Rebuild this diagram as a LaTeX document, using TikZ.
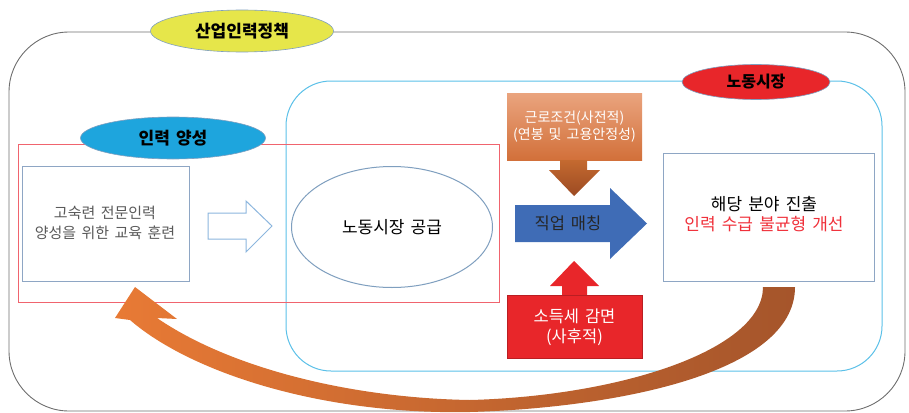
\documentclass[tikz,border=0pt]{standalone}
\usepackage{fontspec}
\setmainfont{Noto Sans CJK KR}
\usetikzlibrary{shapes.geometric}
\definecolor{outergrey}{HTML}{6E6E6E}
\definecolor{cyanline}{HTML}{5BC0E8}
\definecolor{redline}{HTML}{F0646E}
\definecolor{boxline}{HTML}{8EA6C4}
\definecolor{hollowline}{HTML}{8CB6DE}
\definecolor{ellyellow}{HTML}{E6E64A}
\definecolor{ellblue}{HTML}{1EA5DD}
\definecolor{ellred}{HTML}{E8262A}
\definecolor{ellborder}{HTML}{7F9FBF}
\definecolor{peachtop}{HTML}{EAA47E}
\definecolor{peachbot}{HTML}{D2703A}
\definecolor{browntop}{HTML}{C46A30}
\definecolor{brownbot}{HTML}{9C4A22}
\definecolor{matchblue}{HTML}{3F6CB6}
\definecolor{taxred}{HTML}{E8262A}
\definecolor{textgrey}{HTML}{595959}
\definecolor{redtext}{HTML}{F0303A}
\definecolor{arroworange}{HTML}{E87A35}
\definecolor{arrowbrown}{HTML}{A5552B}
\newcommand{\widesp}{\spaceskip=0.36em plus 0.05em\relax}
\tikzset{
  labelell/.style={ellipse, draw=ellborder, line width=0.6pt, inner sep=0pt, font=\fontsize{17}{20}\selectfont\bfseries\widesp},
  plainbox/.style={draw=boxline, fill=white, line width=1pt},
  txt/.style={align=center, inner sep=0pt},
}
\begin{document}
\begin{tikzpicture}[x=1pt,y=-1pt]
\useasboundingbox (0,0) rectangle (909,412);
% outer frame
\draw[outergrey, line width=0.9pt, rounded corners=60pt] (9,32) rectangle (905,411);
% labour market frame
\draw[cyanline, line width=1pt, rounded corners=45pt] (286,81) rectangle (882,371);
% training frame
\draw[redline, line width=1pt] (18,144) rectangle (499,302);
% ellipse labels
\node[labelell, fill=ellyellow, minimum width=183pt, minimum height=42pt] (policy) at (242,31) {산업인력정책};
\node[labelell, fill=ellred, minimum width=148pt, minimum height=35pt, font=\fontsize{16}{20}\selectfont\bfseries] (market) at (756,82) {노동시장};
\node[labelell, fill=ellblue, minimum width=185pt, minimum height=42pt] (train) at (173,138) {인력 양성};
% left box
\draw[plainbox] (22,166) rectangle (189,281);
\node[txt, text=textgrey, font=\fontsize{15}{20}\selectfont\widesp] (edu) at (105,223) {고숙련 전문인력\\양성을 위한 교육 훈련};
% hollow arrow
\draw[hollowline, fill=white, line width=1pt] (208,213) -- (246,213) -- (246,201) -- (272,226) -- (246,252) -- (246,239) -- (208,239) -- cycle;
% supply ellipse
\node[ellipse, draw=ellborder, fill=white, line width=1pt, minimum width=201pt, minimum height=121pt, inner sep=0pt, font=\fontsize{17}{20}\selectfont\widesp] (supply) at (392,227) {노동시장 공급};
% working conditions
\shade[top color=peachtop, bottom color=peachbot] (507,93) rectangle (642,160);
\node[txt, text=white, font=\fontsize{14}{17}\selectfont\widesp] (cond) at (574.5,126.5) {근로조건(사전적)\\(연봉 및 고용안정성)};
\shade[top color=browntop, bottom color=brownbot] (560,160) -- (587,160) -- (587,170) -- (600,170) -- (574,196) -- (549,170) -- (560,170) -- cycle;
% job matching arrow
\fill[matchblue] (515,205) -- (610,205) -- (610,188) -- (647,223.5) -- (610,259) -- (610,242) -- (515,242) -- cycle;
\node[txt, text=black!85, font=\fontsize{16.5}{20}\selectfont\widesp] (match) at (568,223.5) {직업 매칭};
% tax reduction
\fill[taxred] (562,295) -- (562,286) -- (550,286) -- (574,261) -- (599,286) -- (587,286) -- (587,295) -- cycle;
\draw[fill=taxred, draw=taxred!80!black, line width=0.6pt] (507,295) rectangle (642,358);
\node[txt, text=white, font=\fontsize{16.5}{20}\selectfont\widesp] (tax) at (574.5,327) {소득세 감면\\(사후적)};
% right box
\draw[plainbox] (663,153) rectangle (874,281);
\node[txt, font=\fontsize{17}{20}\selectfont\widesp] (result) at (764,214) {해당 분야 진출\\\textcolor{redtext}{인력 수급 불균형 개선}};
% feedback curved arrow
\shade[left color=arroworange, right color=arrowbrown]
  (795,287) .. controls (795,375) and (610,408) .. (470,412)
  .. controls (320,415) and (190,372) .. (130,320)
  -- (115,318) -- (135,287) -- (177,319) -- (157,318)
  .. controls (230,368) and (350,398) .. (470,400)
  .. controls (620,396) and (763,350) .. (763,287) -- cycle;
\end{tikzpicture}
\end{document}
